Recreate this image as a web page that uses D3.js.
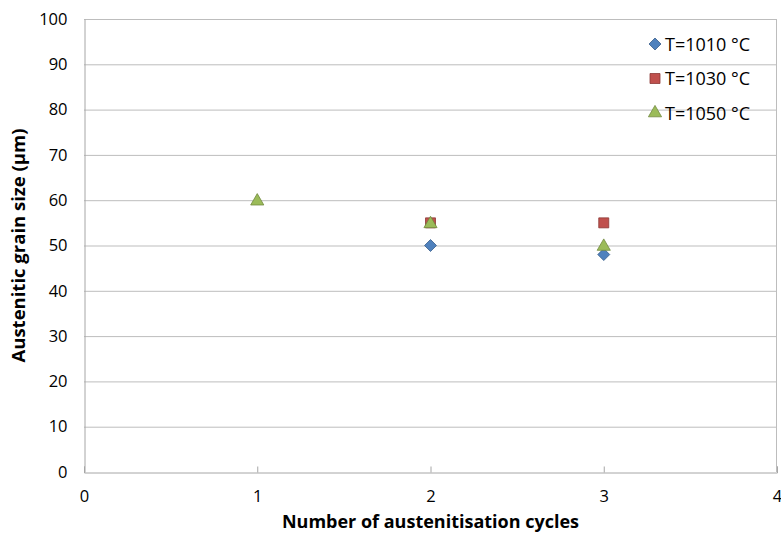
<!DOCTYPE html>
<html>
<head>
<meta charset="utf-8">
<script src="https://cdn.jsdelivr.net/npm/d3@7"></script>
<style>
  body { margin: 0; background: #fff; }
  text { font-family: "Open Sans", "Liberation Sans", sans-serif; fill: #000; }
</style>
</head>
<body>
<div id="chart"></div>
<script>
const width = 781;
const height = 534;
const margin = { top: 19, right: 4, bottom: 62, left: 84 };

// data
const cycles = [1, 2, 3];
const t1010 = [null, 50, 48];
const t1030 = [null, 55, 55];
const t1050 = [60, 55, 50];
const seriesNames = ["T=1010 °C", "T=1030 °C", "T=1050 °C"];
const xTicks = [0, 1, 2, 3, 4];
const yTicks = [0, 10, 20, 30, 40, 50, 60, 70, 80, 90, 100];

// square diamond (equal width and height), like Excel's marker
const squareDiamond = {
  draw(ctx, size) {
    const r = Math.sqrt(size / 2);
    ctx.moveTo(0, -r);
    ctx.lineTo(r, 0);
    ctx.lineTo(0, r);
    ctx.lineTo(-r, 0);
    ctx.closePath();
  }
};

const series = [
  { name: seriesNames[0], values: t1010, shape: squareDiamond, fill: "#4f81bd", stroke: "#385d8a", size: 72 },
  { name: seriesNames[1], values: t1030, shape: d3.symbolSquare, fill: "#c0504d", stroke: "#8c3836", size: 100 },
  { name: seriesNames[2], values: t1050, shape: d3.symbolTriangle, fill: "#9bbb59", stroke: "#71893f", size: 75 }
];

const svg = d3.select("#chart").append("svg")
  .attr("width", width)
  .attr("height", height);

const x = d3.scaleLinear().domain([0, 4]).range([margin.left, width - margin.right]);
const y = d3.scaleLinear().domain([0, 100]).range([height - margin.bottom, margin.top]);

// gridlines
svg.append("g")
  .selectAll("line")
  .data(yTicks.filter(d => d > 0))
  .enter()
  .append("line")
  .attr("x1", x(0))
  .attr("x2", x(4))
  .attr("y1", d => y(d) + 0.5)
  .attr("y2", d => y(d) + 0.5)
  .attr("stroke", "#bdbdbd")
  .attr("stroke-width", 1);

// plot border (right side)
svg.append("line")
  .attr("x1", x(4) - 0.5).attr("x2", x(4) - 0.5)
  .attr("y1", y(100)).attr("y2", y(0))
  .attr("stroke", "#bdbdbd");

// axes
const xAxis = svg.append("g")
  .attr("transform", `translate(0,${y(0) + 0.5})`)
  .call(d3.axisBottom(x).tickValues(xTicks).tickSize(-6).tickPadding(18).tickFormat(d3.format("d")));
xAxis.select(".domain").attr("stroke", "#a6a6a6");
xAxis.selectAll(".tick line").attr("stroke", "#a6a6a6");
xAxis.selectAll("text").style("font-size", "16.5px");

const yAxis = svg.append("g")
  .attr("transform", `translate(${x(0) + 0.5},0)`)
  .call(d3.axisLeft(y).tickValues(yTicks).tickSize(0).tickPadding(17).tickFormat(d3.format("d")));
yAxis.select(".domain").attr("stroke", "#a6a6a6");
yAxis.selectAll("text").style("font-size", "16.5px");

// markers
series.forEach(s => {
  const pts = cycles.map((c, i) => ({ c, v: s.values[i] })).filter(p => p.v !== null);
  svg.append("g")
    .selectAll("path")
    .data(pts)
    .enter()
    .append("path")
    .attr("d", d3.symbol().type(s.shape).size(s.size))
    .attr("transform", d => `translate(${x(d.c)},${y(d.v) + (s.shape === d3.symbolTriangle ? 1 : 0)})`)
    .attr("fill", s.fill)
    .attr("stroke", s.stroke)
    .attr("stroke-width", 0.8);
});

// legend
const legend = svg.append("g").attr("transform", "translate(655,44)");
series.forEach((s, i) => {
  const row = legend.append("g").attr("transform", `translate(0,${i * 34.5})`);
  row.append("path")
    .attr("d", d3.symbol().type(s.shape).size(s.size))
    .attr("fill", s.fill)
    .attr("stroke", s.stroke)
    .attr("stroke-width", 0.8);
  row.append("text")
    .attr("x", 10)
    .attr("y", 6.5)
    .style("font-size", "18px")
    .text(s.name);
});

// axis titles
svg.append("text")
  .attr("transform", `translate(25,${(y(0) + y(100)) / 2}) rotate(-90)`)
  .attr("text-anchor", "middle")
  .style("font-size", "18.5px")
  .style("font-weight", "bold")
  .text("Austenitic grain size (μm)");

svg.append("text")
  .attr("x", x(2))
  .attr("y", 528)
  .attr("text-anchor", "middle")
  .style("font-size", "18px")
  .style("font-weight", "bold")
  .text("Number of austenitisation cycles");
</script>
</body>
</html>
